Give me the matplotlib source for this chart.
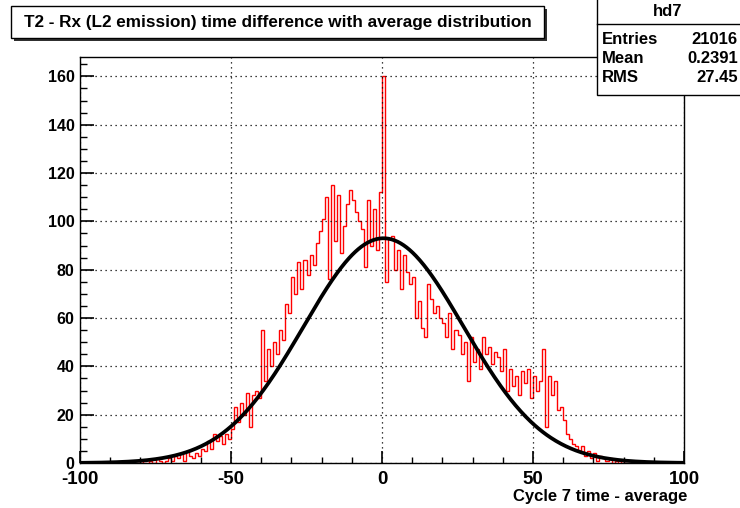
import numpy as np
import matplotlib
matplotlib.use('Agg')
import matplotlib.pyplot as plt
from matplotlib.patches import Rectangle

plt.rcParams['font.family'] = ['Liberation Sans', 'DejaVu Sans']
plt.rcParams['font.weight'] = 'bold'
plt.rcParams['axes.unicode_minus'] = False

# histogram hd7: 200 bins of width 1 from -100 to 100
bin_edges = np.arange(-100, 101, 1)
left_zeros = [0] * 18          # -100 .. -83
counts_mid = [
    0, 0, 1, 0, 0, 1, 0, 2, 1, 0,              # -82 .. -73
    1, 2, 1, 3, 2, 4, 1, 5, 3, 2,              # -72 .. -63
    4, 3, 6, 5, 9, 6, 12, 9, 11, 8,            # -62 .. -53
    12, 10, 14, 23, 17, 25, 20, 29, 15, 28,    # -52 .. -43
    30, 27, 55, 34, 47, 40, 50, 45, 55, 51,    # -42 .. -33
    66, 62, 77, 70, 83, 72, 84, 78, 86, 82,    # -32 .. -23
    91, 96, 101, 110, 76, 115, 92, 111, 87, 98,  # -22 .. -13
    107, 113, 109, 104, 100, 97, 81, 109, 90, 105,  # -12 .. -3
    88, 112, 160, 75, 93, 94, 80, 88, 72, 86,  # -2 .. 7
    79, 74, 77, 60, 67, 56, 52, 74, 68, 62,    # 8 .. 17
    65, 60, 58, 52, 62, 47, 55, 53, 45, 50,    # 18 .. 27
    34, 52, 42, 47, 39, 52, 45, 48, 41, 46,    # 28 .. 37
    44, 38, 47, 30, 39, 32, 36, 28, 38, 33,    # 38 .. 47
    39, 27, 36, 30, 34, 47, 15, 36, 28, 34,    # 48 .. 57
    22, 23, 18, 12, 10, 8, 7, 5, 7, 3,         # 58 .. 67
    5, 2, 4, 1, 3, 2, 1, 2, 0, 1,              # 68 .. 77
    0, 1,                                      # 78 .. 79
]
counts = np.array(left_zeros + counts_mid + [0] * (200 - 18 - len(counts_mid)))

# gaussian fit parameters
fit_amp = 93.0
fit_mean = 0.5
fit_sigma = 26.5

# stats box
stat_name = 'hd7'
stat_labels = ['Entries', 'Mean', 'RMS']
stat_values = ['21016', '0.2391', '27.45']

W, H = 740, 508
fig = plt.figure(figsize=(W / 100, H / 100), dpi=100)
ax = fig.add_axes([80 / W, 1 - 463 / H, (684 - 80) / W, (463 - 57) / H])

ax.stairs(counts, bin_edges, color='#ff0000', lw=1.0, baseline=None)
xf = np.linspace(-100, 100, 600)
ax.plot(xf, fit_amp * np.exp(-0.5 * ((xf - fit_mean) / fit_sigma) ** 2),
        color='black', lw=2.7)

ax.set_xlim(-100, 100)
ax.set_ylim(0, 168)
ax.set_xticks([-100, -50, 0, 50, 100])
ax.set_xticks(np.arange(-100, 101, 10), minor=True)
ax.set_yticks(np.arange(0, 161, 20))
ax.set_yticks(np.arange(0, 166, 5), minor=True)
ax.grid(True, which='major', color='black', linestyle=(0, (1, 3)), lw=0.9)
ax.tick_params(axis='x', which='major', direction='in', length=9, width=1.2,
               labelsize=13.5, pad=6)
ax.tick_params(axis='x', which='minor', direction='in', length=4.5, width=1.0)
ax.tick_params(axis='y', which='major', direction='in', length=10, width=1.2,
               labelsize=11.5, pad=4)
ax.tick_params(axis='y', which='minor', direction='in', length=5, width=1.0)
for lab in ax.get_xticklabels() + ax.get_yticklabels():
    lab.set_fontweight('bold')
for sp in ax.spines.values():
    sp.set_linewidth(1.0)

fig.text(687 / W, 1 - 497 / H, 'Cycle 7 time - average', ha='right', va='center',
         fontsize=12, fontweight='bold')

# title box with shadow
fig.patches.append(Rectangle((14 / W, 1 - 41 / H), 533 / W, 32 / H,
                             transform=fig.transFigure, facecolor='#303030',
                             edgecolor='none'))
fig.patches.append(Rectangle((11 / W, 1 - 38 / H), 533 / W, 32 / H,
                             transform=fig.transFigure, facecolor='white',
                             edgecolor='black', lw=1))
fig.text(278 / W, 1 - 22 / H,
         'T2 - Rx (L2 emission) time difference with average distribution',
         ha='center', va='center', fontsize=12.3, fontweight='bold')

# stats box
fig.patches.append(Rectangle((597 / W, 1 - 95 / H), 150 / W, 97 / H,
                             transform=fig.transFigure, facecolor='white',
                             edgecolor='black', lw=1))
fig.add_artist(plt.Line2D([597 / W, 1], [1 - 24 / H, 1 - 24 / H],
                          transform=fig.transFigure, color='black', lw=1))
fig.text(668 / W, 1 - 12 / H, stat_name, ha='center', va='center',
         fontsize=12, fontweight='bold')
for i, (lab, val) in enumerate(zip(stat_labels, stat_values)):
    y = 1 - (39 + 19.5 * i) / H
    fig.text(602 / W, y, lab, ha='left', va='center', fontsize=12, fontweight='bold')
    fig.text(738 / W, y, val, ha='right', va='center', fontsize=12, fontweight='bold')

fig.savefig('out.png', dpi=100)
